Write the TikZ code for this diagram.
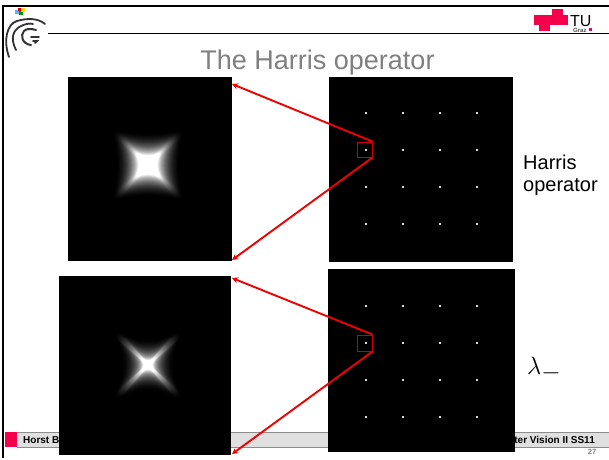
\documentclass[tikz,border=0pt]{standalone}
\usepackage{fontspec}
\setmainfont{Liberation Sans}
\usetikzlibrary{arrows.meta}
\definecolor{tured}{HTML}{F5004B}
\definecolor{redline}{HTML}{F00000}
\tikzset{
  x=1pt,y=-1pt,
  panel/.style={fill=black,draw=none,inner sep=0pt,outer sep=0pt,anchor=north west},
  hotline/.style={draw=redline,line width=1.9pt,line join=miter},
  pointer/.style={hotline,-{Stealth[length=6pt,width=6pt]}},
  selbox/.style={draw=red!80!black,line width=1pt,inner sep=0pt,minimum size=15pt},
  spot/.style={fill=white!85!black,draw=none,inner sep=0pt,minimum size=2.8pt},
  logostroke/.style={draw=black!80,line cap=round},
  tublock/.style={fill=tured,draw=none},
}
% contour star: centre, c = corner offset, m = edge mid offset, gray percent, stroke width
\newcommand{\starcontour}[6]{%
  \pgfmathsetmacro{\kk}{(4*#4-#3)/3}%
  \pgfmathsetmacro{\qq}{#3/3}%
  \filldraw[color=white!#5!black,line width=#6pt,line join=round] (#1-#3,#2-#3)
    .. controls (#1-\qq,#2-\kk) and (#1+\qq,#2-\kk) .. (#1+#3,#2-#3)
    .. controls (#1+\kk,#2-\qq) and (#1+\kk,#2+\qq) .. (#1+#3,#2+#3)
    .. controls (#1+\qq,#2+\kk) and (#1-\qq,#2+\kk) .. (#1-#3,#2+#3)
    .. controls (#1-\kk,#2+\qq) and (#1-\kk,#2-\qq) .. (#1-#3,#2-#3) -- cycle;}
\begin{document}
\begin{tikzpicture}
\useasboundingbox (0,0) rectangle (609,459);
\fill[white] (0,0) rectangle (609,459);
% frame
\fill[black] (2,5) rectangle (609,7.4);
\fill[black] (2,5) rectangle (4.4,458);
\draw[black,line width=.8pt] (48,33.5) -- (609,33.5);
% left logo
\fill[blue!40!cyan!70] (15,10) rectangle (19,14);
\fill[green!60!black] (19,10) rectangle (23,15);
\fill[red!85!black] (18,8) rectangle (22,11);
\fill[yellow!80!orange] (21,8) rectangle (25,12);
\draw[logostroke,line width=1.8pt] (9,57) .. controls (3,40) and (7,24) .. (17,21) .. controls (27,18) and (38,18) .. (45,24);
\draw[logostroke,line width=1.8pt] (16,50) .. controls (10,38) and (13,30) .. (21,26) .. controls (25,24) and (30,23) .. (33,24);
\draw[logostroke,line width=2pt] (31,45) .. controls (22,44) and (20,35) .. (24,31) .. controls (26,29) and (30,28) .. (36,30);
\draw[logostroke,line width=1.8pt] (31,37) -- (39,37) (33,41) -- (37,41) -- (35,43);
% right logo
\fill[tublock] (552,9) rectangle (563,14.5);
\fill[tublock] (534,14.5) rectangle (568,25);
\fill[tublock] (539,25) rectangle (550,31);
\node[inner sep=0pt,anchor=base west] (tu) at (570,26) {\fontsize{16}{16}\selectfont TU};
\node[inner sep=0pt,anchor=base west,text=black!70] (graz) at (573,32) {\fontsize{6}{6}\selectfont\bfseries Graz};
\fill[tublock] (589,28) rectangle (592,31);
% footer
\fill[black!12] (17,432) rectangle (609,447);
\draw[black!45,line width=.4pt] (17,432) -- (609,432) (17,447) -- (609,447);
\fill[tured] (5,432) rectangle (17,447);
\node[inner sep=0pt,anchor=base west] (author) at (23,443) {\fontsize{10}{11}\selectfont\bfseries Horst B};
\node[inner sep=0pt,anchor=base east] (course) at (595,443) {\fontsize{10}{11}\selectfont\bfseries ter Vision II SS11};
\node[inner sep=0pt,anchor=base] (page) at (592,454) {\fontsize{7.5}{8}\selectfont\bfseries\color{black!50}27};
% title
\node[inner sep=0pt,text=black!50] (title) at (317.5,62.5) {\fontsize{27}{30}\selectfont The Harris operator};
% panels
\node[panel,minimum width=164pt,minimum height=184pt] (tl) at (68,77) {};
\node[panel,minimum width=184pt,minimum height=185pt] (tr) at (329,77) {};
\node[panel,minimum width=172pt,minimum height=179pt] (bl) at (59,276) {};
\node[panel,minimum width=187pt,minimum height=183pt] (br) at (328,269) {};
% blobs
\foreach \t in {1,2,...,100}{
  \pgfmathsetmacro{\u}{\t/100}
  \pgfmathsetmacro{\gv}{min(100,125*\u^1.7)}
  \pgfmathsetmacro{\c}{8+24*(1-\u)}
  \pgfmathsetmacro{\m}{7+22*(1-\u)^1.3}
  \pgfmathsetmacro{\w}{1+6*(1-\u)}
  \starcontour{148}{165}{\c}{\m}{\gv}{\w}
}
\foreach \t in {1,2,...,100}{
  \pgfmathsetmacro{\u}{\t/100}
  \pgfmathsetmacro{\gv}{min(100,120*\u^1.7)}
  \pgfmathsetmacro{\c}{3+28*(1-\u)}
  \pgfmathsetmacro{\m}{3+20*(1-\u)^1.6}
  \pgfmathsetmacro{\w}{1+6*(1-\u)}
  \starcontour{148}{365}{\c}{\m}{\gv}{\w}
}
% spots
\foreach \x in {366,403,440,477}{
  \foreach \y in {113,150,187,224}{ \node[spot] at (\x,\y) {}; }
  \foreach \y in {306,343,380,417}{ \node[spot] at (\x,\y) {}; }
}
% selection boxes
\node[selbox] (seltop) at (364.5,149.5) {};
\node[selbox,minimum height=16pt] (selbot) at (364.5,343) {};
% connectors
\coordinate (a1) at (232,84);
\coordinate (a2) at (232,260);
\coordinate (b1) at (232,278);
\coordinate (b2) at (232,454);
\draw[pointer] (seltop.north east) -- (a1);
\draw[pointer] (seltop.south east) -- (a2);
\draw[pointer] (selbot.north east) -- (b1);
\draw[pointer] (selbot.south east) -- (b2);
% labels
\node[inner sep=0pt,anchor=base west] (harris) at (523,169) {\fontsize{20}{22}\selectfont Harris};
\node[inner sep=0pt,anchor=base west] (oper) at (523,191) {\fontsize{20}{22}\selectfont operator};
\node[inner sep=0pt,anchor=base west] (lam) at (527,374) {\fontsize{33}{35}\selectfont $\lambda_-$};
\end{tikzpicture}
\end{document}
